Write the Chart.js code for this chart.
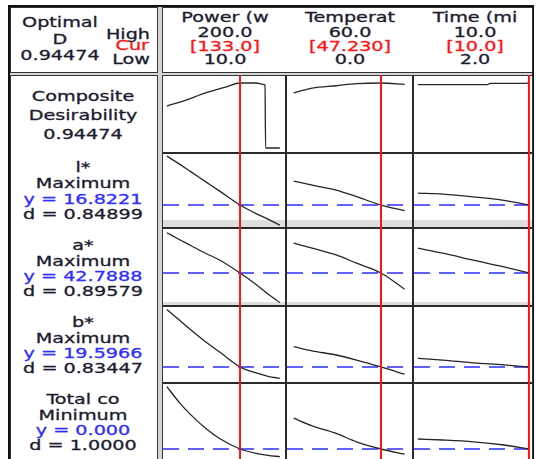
<!DOCTYPE html>
<html>
<head>
<meta charset="utf-8">
<script src="https://cdn.jsdelivr.net/npm/chart.js@4/dist/chart.umd.min.js"></script>
<style>
body{margin:0;width:536px;height:459px;overflow:hidden;background:#fff;position:relative;font-family:"DejaVu Sans",Verdana,sans-serif;font-size:14px;color:#1c1c30}
.box{position:absolute;background:#fff;border:1px solid #333;box-sizing:border-box}
.t{position:absolute;width:200px;text-align:center;line-height:14px;white-space:nowrap;transform:scaleX(1.37);transform-origin:center center;-webkit-text-stroke:0.3px currentColor}
.ln{position:absolute;background:#2a2a2a}
canvas{position:absolute}
</style>
</head>
<body>
<div id="frame" style="position:absolute;left:8px;top:5px;width:526px;height:470px;border:2px solid #111;background:#d6d6d6;box-sizing:border-box"></div>
<div class="box" style="left:10px;top:7px;width:148px;height:66px"></div>
<div class="box" style="left:162px;top:7px;width:371px;height:66px"></div>
<div class="box" style="left:10px;top:75px;width:148px;height:400px"></div>
<div class="box" style="left:162px;top:75px;width:371px;height:400px"></div>
<div style="position:absolute;left:163px;top:220px;width:369px;height:7px;background:#dedede"></div>
<div style="position:absolute;left:163px;top:302px;width:369px;height:3px;background:#dedede"></div>
<div class="ln" style="left:163px;top:152px;width:369px;height:2px"></div>
<div class="ln" style="left:163px;top:227px;width:369px;height:2px"></div>
<div class="ln" style="left:163px;top:305px;width:369px;height:2px"></div>
<div class="ln" style="left:163px;top:382px;width:369px;height:2px"></div>
<div class="ln" style="left:285px;top:75px;width:2px;height:400px"></div>
<div class="ln" style="left:412px;top:75px;width:2px;height:400px"></div>
<script>
// header
const factorNames = ['Power (w', 'Temperat', 'Time (mi'];
const factorHigh = ['200.0', '60.0', '10.0'];
const factorCurText = ['[133.0]', '[47.230]', '[10.0]'];
const factorLow = ['10.0', '0.0', '2.0'];
const curSettings = [133.0, 47.23, 10.0];
const compositeD = '0.94474';

// responses
const responseNames = ['l*', 'a*', 'b*', 'Total co'];
const responseGoals = ['Maximum', 'Maximum', 'Maximum', 'Minimum'];
const responsePredicted = [16.8221, 42.7888, 19.5966, 0.000];
const responseYText = ['y = 16.8221', 'y = 42.7888', 'y = 19.5966', 'y = 0.000'];
const responseDText = ['d = 0.84899', 'd = 0.89579', 'd = 0.83447', 'd = 1.0000'];

// factor levels along x
const powerLevels = [10, 30, 50, 75, 100, 133, 160, 180, 200];
const tempLevels = [0, 10, 23, 34, 47.23, 60];
const timeLevels = [2, 3.8, 6, 8.2, 10];

// composite desirability
const compPowerX = [10, 40, 75, 110, 133, 160, 172, 175, 176, 200];
const compPowerD = [0.61, 0.69, 0.80, 0.89, 0.945, 0.945, 0.925, 0.915, 0, 0];
const compTempD = [0.80, 0.87, 0.905, 0.935, 0.945, 0.925];
const compTimeX = [2, 7.0, 7.2, 9.8, 10];
const compTimeD = [0.92, 0.92, 0.94, 0.94, 0.95];

// response traces
const lPower = [26.6, 25.1, 23.5, 21.5, 19.5, 16.82, 15.1, 14.0, 12.8];
const lTemp = [21.6, 20.8, 19.8, 18.5, 16.82, 15.7];
const lTime = [19.2, 19.0, 18.45, 17.75, 16.82];
const aPower = [58.9, 56.3, 53.8, 50.7, 47.8, 42.79, 38.2, 34.4, 31.0];
const aTemp = [54.7, 52.7, 50.0, 46.7, 42.79, 36.3];
const aTime = [52.7, 50.7, 47.9, 45.2, 42.79];
const bPower = [38.8, 35.4, 32.0, 28.0, 24.4, 19.6, 17.6, 16.5, 15.8];
const bTemp = [26.4, 25.0, 23.6, 21.9, 19.6, 17.2];
const bTime = [22.5, 21.9, 21.0, 20.3, 19.6];
const totPower = [15.6, 11.8, 8.6, 5.2, 2.5, 0.0, -1.1, -1.6, -1.9];
const totTemp = [7.7, 5.8, 3.9, 1.8, 0.0, -1.3];
const totTime = [2.5, 2.25, 1.8, 1.0, 0.0];

// panel grid
const colLeft = [163, 287, 414];
const colRight = [285, 412, 532];
const rowTop = [75, 153, 228, 306, 383];
const rowBottom = [153, 228, 306, 383, 459];
const xRange = [[3.5, 208.6], [-3.6, 63.99], [1.72, 10.22]];
const yRange = [[-0.0727, 1.061], [12.222, 27.222], [29.589, 60.789], [14.263, 39.93], [-2.5, 16.5]];

function text(str, x, base, color, align) {
  const d = document.createElement('div');
  d.className = 't';
  d.textContent = str;
  d.style.top = (base - 11.8) + 'px';
  if (align === 'right') {
    d.style.left = (x - 200) + 'px';
    d.style.textAlign = 'right';
    d.style.transformOrigin = 'right center';
  } else {
    d.style.left = (x - 100) + 'px';
  }
  if (color) d.style.color = color;
  document.body.appendChild(d);
}

const RED = '#ff1414', BLUE = '#2e2eff';

// left header
text('Optimal', 60, 26.7);
text('D', 60, 43.3);
text(compositeD, 60, 60);
text('High', 150, 38.3, null, 'right');
text('Cur', 149, 50, RED, 'right');
text('Low', 150, 64, null, 'right');

// factor header
const headX = [225, 350, 475];
factorNames.forEach((n, i) => {
  text(n, headX[i], 21.7);
  text(factorHigh[i], headX[i], 36.7);
  text(factorCurText[i], headX[i], 51.2, RED);
  text(factorLow[i], headX[i], 64);
});

// left labels
text('Composite', 83, 100.7);
text('Desirability', 83, 119.3);
text(compositeD, 83, 138.3);
const labelBase = [172, 249.5, 326.5, 403.5];
responseNames.forEach((n, i) => {
  const b = labelBase[i];
  text(n, 83, b);
  text(responseGoals[i], 83, b + 16);
  text(responseYText[i], 83, b + 31.5, BLUE);
  text(responseDText[i], 83, b + 46.5);
});

function pts(xs, ys) { return xs.map((x, i) => ({x: x, y: ys[i]})); }

function panel(col, row, xs, ys, ref) {
  const c = document.createElement('canvas');
  const w = colRight[col] - colLeft[col], h = rowBottom[row] - rowTop[row];
  c.width = w; c.height = h;
  c.style.left = colLeft[col] + 'px'; c.style.top = rowTop[row] + 'px';
  c.style.width = w + 'px'; c.style.height = h + 'px';
  document.body.appendChild(c);
  const [xmin, xmax] = xRange[col], [ymin, ymax] = yRange[row];
  const ds = [
    {data: [{x: curSettings[col], y: ymin - 1}, {x: curSettings[col], y: ymax + 1}], borderColor: RED, borderWidth: 2},
    {data: pts(xs, ys), borderColor: '#262626', borderWidth: 1.3, cubicInterpolationMode: 'monotone'}
  ];
  if (ref !== null) {
    ds.push({data: [{x: xmin, y: ref}, {x: xmax, y: ref}], borderColor: BLUE, borderWidth: 1.5, borderDash: [16, 9]});
  }
  new Chart(c, {
    type: 'line',
    data: {datasets: ds},
    options: {
      responsive: false, animation: false, events: [],
      layout: {padding: 0},
      elements: {point: {radius: 0}},
      plugins: {legend: {display: false}, tooltip: {enabled: false}},
      scales: {
        x: {type: 'linear', display: false, min: xmin, max: xmax},
        y: {display: false, min: ymin, max: ymax}
      }
    }
  });
}

panel(0, 0, compPowerX, compPowerD, null);
panel(1, 0, tempLevels, compTempD, null);
panel(2, 0, compTimeX, compTimeD, null);

const traces = [[lPower, lTemp, lTime], [aPower, aTemp, aTime], [bPower, bTemp, bTime], [totPower, totTemp, totTime]];
const levels = [powerLevels, tempLevels, timeLevels];
traces.forEach((tr, r) => {
  tr.forEach((ys, c) => panel(c, r + 1, levels[c], ys, responsePredicted[r]));
});
</script>
</body>
</html>
